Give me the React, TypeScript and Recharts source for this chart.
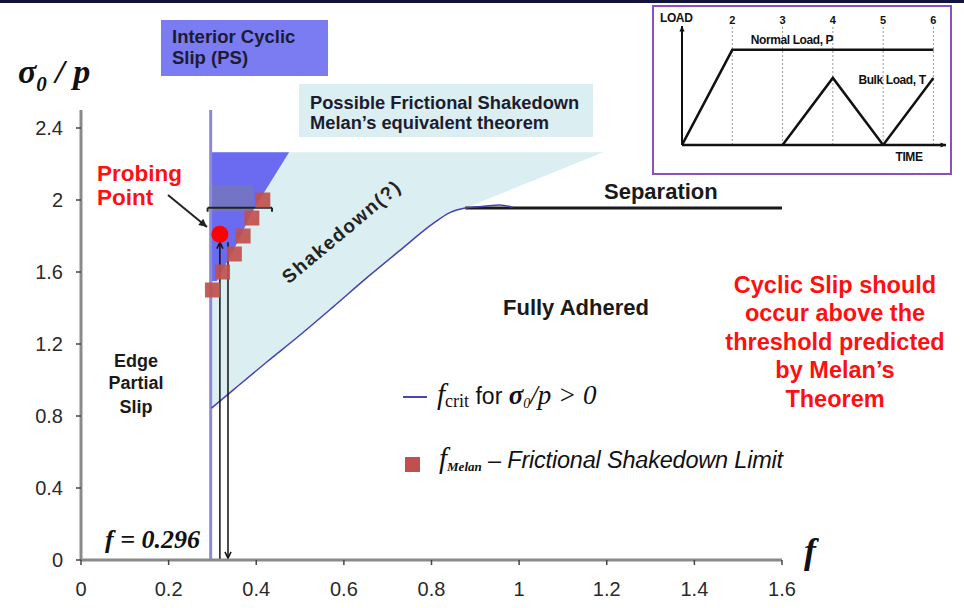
import React from "react";
import {
  ComposedChart,
  LineChart,
  Line,
  Area,
  Scatter,
  XAxis,
  YAxis,
  ReferenceLine,
  ReferenceArea,
  Legend,
} from "recharts";

const SANS = '"Liberation Sans", Arial, sans-serif';
const SERIF = '"Liberation Serif", "Times New Roman", serif';

// axes
const xTicks = [0, 0.2, 0.4, 0.6, 0.8, 1, 1.2, 1.4, 1.6];
const yTicks = [0, 0.4, 0.8, 1.2, 1.6, 2, 2.4];

// critical friction coefficient curve
const fCritF = [0.298, 0.347, 0.424, 0.5, 0.575, 0.652, 0.728, 0.804, 0.842, 0.877, 0.92, 0.956, 0.985];
const fCritS = [0.844, 0.944, 1.1, 1.25, 1.405, 1.567, 1.72, 1.87, 1.93, 1.955, 1.965, 1.972, 1.96];

// separation line
const sepF = [0.877, 1.6];
const sepS = [1.955, 1.955];

// possible frictional shakedown region (low/high bounds)
const shakeF = [0.296, 0.347, 0.424, 0.5, 0.575, 0.652, 0.728, 0.804, 0.842, 0.877, 1.192];
const shakeLow = [0.84, 0.944, 1.1, 1.25, 1.405, 1.567, 1.72, 1.87, 1.93, 1.955, 2.265];
const shakeHigh = [2.265, 2.265, 2.265, 2.265, 2.265, 2.265, 2.265, 2.265, 2.265, 2.265, 2.265];

// interior cyclic slip region
const slipF = [0.296, 0.31, 0.325, 0.35, 0.37, 0.39, 0.415, 0.475];
const slipLow = [1.55, 1.55, 1.62, 1.73, 1.83, 1.93, 2.03, 2.265];
const slipHigh = [2.265, 2.265, 2.265, 2.265, 2.265, 2.265, 2.265, 2.265];

// Melan frictional shakedown limit
const melanF = [0.3, 0.323, 0.35, 0.37, 0.39, 0.415];
const melanS = [1.5, 1.6, 1.7, 1.8, 1.9, 2.0];

// probing point
const probeF = [0.317];
const probeS = [1.81];

const fThreshold = 0.296;

// inset: load history
const normalT = [1, 2, 6];
const normalLoad = [0, 1, 1];
const bulkT = [3, 4, 5, 6];
const bulkLoad = [0, 0.705, 0, 0.705];
const insetMarks = [2, 3, 4, 5, 6];

const fCritData = fCritF.map((f, i) => ({ f, s: fCritS[i] }));
const sepData = sepF.map((f, i) => ({ f, s: sepS[i] }));
const shakeData = shakeF.map((f, i) => ({ f, low: shakeLow[i], high: shakeHigh[i] }));
const slipData = slipF.map((f, i) => ({ f, low: slipLow[i], high: slipHigh[i] }));
const melanData = melanF.map((f, i) => ({ f, s: melanS[i] }));
const probeData = probeF.map((f, i) => ({ f, s: probeS[i] }));
const normalData = normalT.map((t, i) => ({ t, load: normalLoad[i] }));
const bulkData = bulkT.map((t, i) => ({ t, load: bulkLoad[i] }));

const arrow = (opts: { color?: string; width?: number; head?: number; filled?: boolean }) => (p: any) => {
  const { x1, y1, x2, y2 } = p;
  const c = opts.color || "#111";
  const h = opts.head || 8;
  const a = Math.atan2(y2 - y1, x2 - x1);
  const lx = x2 - h * Math.cos(a - 0.45);
  const ly = y2 - h * Math.sin(a - 0.45);
  const rx = x2 - h * Math.cos(a + 0.45);
  const ry = y2 - h * Math.sin(a + 0.45);
  return (
    <g>
      <line x1={x1} y1={y1} x2={x2} y2={y2} stroke={c} strokeWidth={opts.width || 1.5} />
      {opts.filled ? (
        <path d={`M${x2},${y2} L${lx},${ly} L${rx},${ry} Z`} fill={c} />
      ) : (
        <path d={`M${lx},${ly} L${x2},${y2} L${rx},${ry}`} fill="none" stroke={c} strokeWidth={1.5} />
      )}
    </g>
  );
};

const errorBar = (p: any) => {
  const { x1, y1, x2, y2 } = p;
  return (
    <g stroke="#222" strokeWidth={2}>
      <line x1={x1} y1={y1} x2={x2} y2={y2} />
      <line x1={x1} y1={y1} x2={x1} y2={y1 + 4} />
      <line x1={x2} y1={y2} x2={x2} y2={y2 + 4} />
    </g>
  );
};

const MelanSquare = (p: any) => (
  <rect x={p.cx - 7.5} y={p.cy - 7.5} width={15} height={15} fill="#c0504d" fillOpacity={0.92} />
);

const ProbeDot = (p: any) => <circle cx={p.cx} cy={p.cy} r={8.5} fill="#ff0000" />;

// legend drawn 10px lower inside its own box so no glyph touches the edge
const LegendBox = () => (
  <svg width={420} height={120} style={{ overflow: "visible" }}>
    <line x1={8} y1={27} x2={32} y2={27} stroke="#4646b0" strokeWidth={2} />
    <text x={42} y={34} fill="#111">
      <tspan fontFamily={SERIF} fontStyle="italic" fontSize={29}>f</tspan>
      <tspan fontFamily={SERIF} fontSize={18} dy={3}>crit</tspan>
      <tspan fontFamily={SANS} fontSize={23} dy={-3}> for </tspan>
      <tspan fontFamily={SERIF} fontStyle="italic" fontWeight="bold" fontSize={27}>σ</tspan>
      <tspan fontFamily={SERIF} fontStyle="italic" fontSize={14} dy={4}>0</tspan>
      <tspan fontFamily={SERIF} fontStyle="italic" fontSize={27} dy={-4}>/p &gt; 0</tspan>
    </text>
    <rect x={10} y={87} width={15} height={15} fill="#c0504d" />
    <text x={44} y={98} fill="#111">
      <tspan fontFamily={SERIF} fontStyle="italic" fontSize={29}>f</tspan>
      <tspan fontFamily={SERIF} fontStyle="italic" fontWeight="bold" fontSize={13} dy={3}>Melan</tspan>
      <tspan fontFamily={SANS} fontStyle="italic" fontSize={23.5} dy={-3} letterSpacing={-0.2}> – Frictional Shakedown Limit</tspan>
    </text>
  </svg>
);

const Inset = () => (
  <div
    style={{
      position: "absolute",
      left: 652,
      top: 5,
      width: 300,
      height: 170,
      border: "2px solid #8a50c0",
      boxSizing: "border-box",
      background: "#fff",
    }}
  >
    <LineChart width={296} height={166} margin={{ top: 19, right: 4, bottom: 28, left: 28 }}>
      <XAxis type="number" dataKey="t" domain={[1, 6.25]} allowDataOverflow hide />
      <YAxis type="number" domain={[0, 1.25]} allowDataOverflow hide />
      {insetMarks.map((t) => (
        <ReferenceLine
          key={t}
          x={t}
          stroke="#999"
          strokeDasharray="2 2"
          label={{ value: String(t), position: "top", offset: 2, fontSize: 11, fontWeight: "bold", fill: "#111", fontFamily: SANS }}
        />
      ))}
      <ReferenceLine segment={[{ x: 1, y: 0 }, { x: 1, y: 1.25 }]} shape={arrow({ width: 2, head: 6, filled: true })} />
      <ReferenceLine segment={[{ x: 1, y: 0 }, { x: 6.25, y: 0 }]} shape={arrow({ width: 2.5, head: 6, filled: true })} />
      <Line data={normalData} dataKey="load" type="linear" stroke="#111" strokeWidth={2.5} dot={false} isAnimationActive={false} />
      <Line data={bulkData} dataKey="load" type="linear" stroke="#111" strokeWidth={2.5} dot={false} isAnimationActive={false} />
    </LineChart>
    <svg width={296} height={166} style={{ position: "absolute", left: 0, top: 0, pointerEvents: "none" }}>
      <g fontFamily={SANS} fontWeight="bold" fill="#111" fontSize={12} letterSpacing={-0.4}>
        <text x={6} y={15}>LOAD</text>
        <text x={138} y={37} textAnchor="middle">Normal Load, P</text>
        <text x={238} y={77} textAnchor="middle">Bulk Load, T</text>
        <text x={255} y={154} textAnchor="middle">TIME</text>
      </g>
    </svg>
  </div>
);

export default function App() {
  return (
    <div style={{ position: "absolute", left: 0, top: 0, width: 964, height: 608, background: "#fff", overflow: "hidden" }}>
      <div style={{ position: "absolute", left: 0, top: 0, width: 964, height: 3, background: "#12123a" }} />
      <ComposedChart width={964} height={608} margin={{ top: 110, right: 182, bottom: 18, left: 21 }}>
        <XAxis
          type="number"
          dataKey="f"
          domain={[0, 1.6]}
          ticks={xTicks}
          allowDataOverflow
          height={30}
          tickSize={5}
          tickMargin={17}
          axisLine={{ stroke: "#8a8a8a", strokeWidth: 3 }}
          tickLine={{ stroke: "#444", strokeWidth: 1.5 }}
          tick={{ fill: "#2a2a2a", fontSize: 20, fontFamily: SANS }}
        />
        <YAxis
          type="number"
          dataKey="s"
          domain={[0, 2.5]}
          ticks={yTicks}
          allowDataOverflow
          width={60}
          tickSize={5}
          tickMargin={13}
          axisLine={{ stroke: "#8a8a8a", strokeWidth: 3 }}
          tickLine={{ stroke: "#444", strokeWidth: 1.5 }}
          tick={{ fill: "#2a2a2a", fontSize: 20, fontFamily: SANS }}
        />
        <Area
          data={shakeData}
          dataKey={(d: any) => [d.low, d.high]}
          type="linear"
          stroke="none"
          fill="#dbeef2"
          fillOpacity={1}
          isAnimationActive={false}
        />
        <Area
          data={slipData}
          dataKey={(d: any) => [d.low, d.high]}
          type="linear"
          stroke="none"
          fill="#6b6bf2"
          fillOpacity={1}
          isAnimationActive={false}
        />
        <ReferenceArea x1={0.294} x2={0.393} y1={1.933} y2={2.083} fill="#7474c6" fillOpacity={1} stroke="none" />
        <ReferenceLine x={fThreshold} stroke="#8a8ad8" strokeWidth={3} />
        <Line data={sepData} dataKey="s" type="linear" stroke="#1a1a1a" strokeWidth={3} dot={false} isAnimationActive={false} />
        <Line data={fCritData} dataKey="s" type="monotone" stroke="#4444b0" strokeWidth={1.5} dot={false} isAnimationActive={false} legendType="line" />
        <ReferenceLine segment={[{ x: 0.289, y: 1.957 }, { x: 0.436, y: 1.957 }]} shape={errorBar} />
        <Scatter data={melanData} shape={MelanSquare} isAnimationActive={false} />
        <Scatter data={probeData} shape={ProbeDot} isAnimationActive={false} />
        <ReferenceLine segment={[{ x: 0.317, y: 0 }, { x: 0.317, y: 1.765 }]} shape={arrow({ width: 1.5, head: 7 })} />
        <ReferenceLine segment={[{ x: 0.3355, y: 1.765 }, { x: 0.3355, y: 0.01 }]} shape={arrow({ width: 1.5, head: 7 })} />
        <ReferenceLine segment={[{ x: 0.1986, y: 2.028 }, { x: 0.2876, y: 1.85 }]} shape={arrow({ width: 2, head: 9, filled: true, color: "#222" })} />
        <Legend
          layout="vertical"
          align="center"
          verticalAlign="middle"
          content={() => <LegendBox />}
          wrapperStyle={{ left: 395, top: 370, width: 420, height: 120 }}
        />
      </ComposedChart>

      <svg width={964} height={608} style={{ position: "absolute", left: 0, top: 0, pointerEvents: "none" }}>
        {/* boxes */}
        <rect x={161} y={20} width={167} height={56} fill="#7b7bf2" />
        <rect x={299} y={84} width={294} height={53} fill="#dbeef2" />
        <g fontFamily={SANS} fontWeight="bold" fill="#1c1c30" fontSize={18.5}>
          <text x={172} y={43}>Interior Cyclic</text>
          <text x={172} y={64}>Slip (PS)</text>
        </g>
        <g fontFamily={SANS} fontWeight="bold" fill="#1c1c30" fontSize={18.3}>
          <text x={310} y={109}>Possible Frictional Shakedown</text>
          <text x={310} y={129}>Melan’s equivalent theorem</text>
        </g>

        {/* axis titles */}
        <text x={18} y={83} fontFamily={SERIF} fontWeight="bold" fontStyle="italic" fill="#111">
          <tspan fontSize={34}>σ</tspan>
          <tspan fontSize={21} dy={8}>0</tspan>
          <tspan fontSize={34} dy={-8}> / p</tspan>
        </text>
        <text x={804} y={563} fontFamily={SERIF} fontWeight="bold" fontStyle="italic" fontSize={36} fill="#111">f</text>

        {/* annotations */}
        <g fontFamily={SANS} fontWeight="bold" fill="#ff1010" fontSize={22.5}>
          <text x={97} y={181}>Probing</text>
          <text x={97} y={205}>Point</text>
        </g>
        <g fontFamily={SANS} fontWeight="bold" fill="#1a1a1a" fontSize={22}>
          <text x={604} y={199}>Separation</text>
          <text x={503} y={315}>Fully Adhered</text>
        </g>
        <text
          x={342}
          y={238}
          transform="rotate(-40 342 232)"
          textAnchor="middle"
          fontFamily={SANS}
          fontWeight="bold"
          fontSize={19}
          letterSpacing={1.6}
          fill="#222"
        >
          Shakedown(?)
        </text>
        <g fontFamily={SANS} fontWeight="bold" fill="#1a1a1a" fontSize={18} textAnchor="middle">
          <text x={136} y={367}>Edge</text>
          <text x={136} y={389}>Partial</text>
          <text x={136} y={413}>Slip</text>
        </g>
        <g fontFamily={SANS} fontWeight="bold" fill="#ff1010" fontSize={23.5} textAnchor="middle">
          <text x={835} y={293}>Cyclic  Slip should</text>
          <text x={835} y={321}>occur above the</text>
          <text x={835} y={350}>threshold predicted</text>
          <text x={835} y={378}>by Melan’s</text>
          <text x={835} y={407}>Theorem</text>
        </g>
        <text x={105} y={548} fontFamily={SERIF} fontWeight="bold" fontStyle="italic" fontSize={26} fill="#111">
          f = 0.296
        </text>
      </svg>
      <Inset />
    </div>
  );
}
